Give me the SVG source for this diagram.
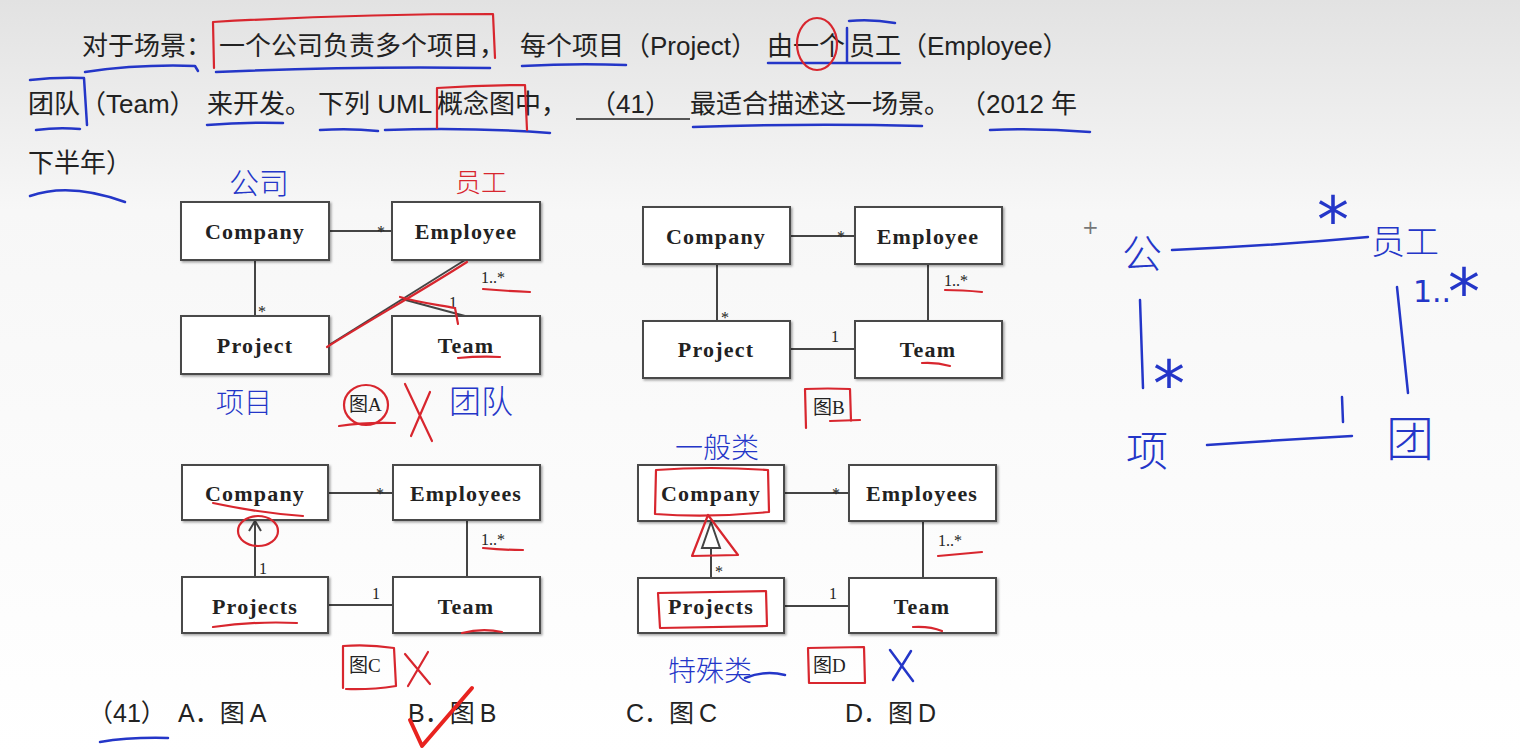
<svg xmlns="http://www.w3.org/2000/svg" width="1520" height="754" viewBox="0 0 1520 754">
<defs>
<linearGradient id="bg" x1="0" y1="0" x2="0" y2="1">
<stop offset="0" stop-color="#e2e2e2"/>
<stop offset="0.28" stop-color="#f7f7f7"/>
<stop offset="1" stop-color="#ffffff"/>
</linearGradient>
<filter id="sh" x="-10%" y="-10%" width="130%" height="130%">
<feDropShadow dx="1.5" dy="1.5" stdDeviation="1" flood-color="#000" flood-opacity="0.35"/>
</filter>
</defs>
<style>
.box{fill:#fff;stroke:#4a4a4a;stroke-width:2;filter:url(#sh)}
.cls{font-family:"Liberation Serif",serif;font-weight:bold;font-size:22px;fill:#222;text-anchor:middle;letter-spacing:1.2px}
.ln{stroke:#444;stroke-width:2;fill:none}
.m{font-family:"Liberation Serif",serif;font-size:16px;fill:#222}
.cap{font-family:"Liberation Serif","Noto Sans CJK SC",serif;font-size:19px;fill:#222}
.q{font-family:"Liberation Sans","Noto Sans CJK SC",sans-serif;font-size:26px;fill:#222}
.a{font-family:"Liberation Sans","Noto Sans CJK SC",sans-serif;font-size:25px;fill:#222}
.bl{stroke:#2436c8;stroke-width:2.5;fill:none;stroke-linecap:round;stroke-linejoin:round}
.rd{stroke:#d8262e;stroke-width:2.2;fill:none;stroke-linecap:round;stroke-linejoin:round}
.hb{font-family:"Noto Sans CJK SC",sans-serif;fill:#2436c8;font-weight:300}
.hr{font-family:"Noto Sans CJK SC",sans-serif;fill:#d8262e;font-weight:300}
.ha{font-family:"DejaVu Sans",sans-serif;fill:#2436c8}
</style>
<rect width="1520" height="754" fill="url(#bg)"/>

<g id="question">
<text class="q" x="82" y="55">对于场景：</text>
<text class="q" x="219" y="55">一个公司负责多个项目，</text>
<text class="q" x="520" y="55">每个项目（Project）</text>
<text class="q" x="767" y="55">由一个</text>
<text class="q" x="849" y="55">员工（Employee）</text>
<text class="q" x="28" y="113">团队（Team）</text>
<text class="q" x="207" y="113">来开发。</text>
<text class="q" x="318" y="113">下列 UML</text>
<text class="q" x="437" y="113">概念图中，</text>
<text class="q" x="590" y="113">（41）</text>
<line x1="576" y1="119" x2="690" y2="119" stroke="#222" stroke-width="1.5"/>
<text class="q" x="690" y="113">最适合描述这一场景。</text>
<text class="q" x="960" y="113">（2012 年</text>
<text class="q" x="28" y="172">下半年）</text>
</g>

<g id="question-marks">
<path class="bl" d="M85,72 Q140,64 195,66 L198,71"/>
<path class="bl" d="M216,72 Q350,66 490,68"/>
<path class="rd" d="M214,68 L213,22 Q350,14 493,14 L495,58"/>
<path class="bl" d="M522,66 Q575,63 626,65"/>
<path class="bl" d="M768,63 L900,63"/>
<ellipse class="rd" cx="817" cy="44" rx="20" ry="26"/>
<path class="bl" d="M847,28 L847,62 M849,21 Q872,19 895,23"/>
<path class="bl" d="M30,80 Q56,77 84,78 L87,125 M36,130 Q58,127 80,129"/>
<path class="bl" d="M207,125 Q245,122 283,123"/>
<path class="bl" d="M320,130 Q350,128 378,131 M385,130 Q470,127 550,133"/>
<path class="rd" d="M437,128 L437,88 Q480,85 525,85 L527,130"/>
<path class="bl" d="M693,127 Q810,123 922,126"/>
<path class="bl" d="M990,130 Q1040,128 1090,132"/>
<path class="bl" d="M30,196 Q70,182 125,202"/>
</g>

<g id="connectors">
<!-- A -->
<line class="ln" x1="329" y1="231" x2="392" y2="231"/>
<line class="ln" x1="255" y1="260" x2="255" y2="316"/>
<line class="ln" x1="329" y1="345" x2="465" y2="260"/>
<line class="ln" x1="402" y1="299" x2="465" y2="316"/>
<!-- B -->
<line class="ln" x1="790" y1="236" x2="855" y2="236"/>
<line class="ln" x1="717" y1="264" x2="717" y2="321"/>
<line class="ln" x1="928" y1="264" x2="928" y2="321"/>
<line class="ln" x1="790" y1="349" x2="855" y2="349"/>
<!-- C -->
<line class="ln" x1="328" y1="493" x2="393" y2="493"/>
<line class="ln" x1="255" y1="521" x2="255" y2="577"/>
<path class="ln" d="M249,531 L255,521 L261,531"/>
<line class="ln" x1="467" y1="520" x2="467" y2="577"/>
<line class="ln" x1="328" y1="605" x2="393" y2="605"/>
<!-- D -->
<line class="ln" x1="784" y1="493" x2="849" y2="493"/>
<line class="ln" x1="711" y1="548" x2="711" y2="578"/>
<path d="M711,522 L702,548 L720,548 Z" fill="#fff" stroke="#444" stroke-width="2"/>
<line class="ln" x1="923" y1="521" x2="923" y2="578"/>
<line class="ln" x1="784" y1="606" x2="849" y2="606"/>
</g>

<g id="multiplicities">
<text class="m" x="377" y="237">*</text>
<text class="m" x="258" y="317">*</text>
<text class="m" x="449" y="308">1</text>
<text class="m" x="481" y="283">1..*</text>
<text class="m" x="837" y="242">*</text>
<text class="m" x="721" y="323">*</text>
<text class="m" x="831" y="342">1</text>
<text class="m" x="944" y="286">1..*</text>
<text class="m" x="376" y="499">*</text>
<text class="m" x="259" y="574">1</text>
<text class="m" x="372" y="599">1</text>
<text class="m" x="481" y="545">1..*</text>
<text class="m" x="832" y="499">*</text>
<text class="m" x="715" y="577">*</text>
<text class="m" x="829" y="599">1</text>
<text class="m" x="938" y="546">1..*</text>
</g>

<g id="A-Company"><rect class="box" x="181" y="202" width="148" height="58"/><text class="cls" x="255" y="239">Company</text></g>
<g id="A-Employee"><rect class="box" x="392" y="202" width="148" height="58"/><text class="cls" x="466" y="239">Employee</text></g>
<g id="A-Project"><rect class="box" x="181" y="316" width="148" height="58"/><text class="cls" x="255" y="353">Project</text></g>
<g id="A-Team"><rect class="box" x="392" y="316" width="148" height="58"/><text class="cls" x="466" y="353">Team</text></g>

<g id="B-Company"><rect class="box" x="643" y="207" width="147" height="57"/><text class="cls" x="716" y="244">Company</text></g>
<g id="B-Employee"><rect class="box" x="855" y="207" width="147" height="57"/><text class="cls" x="928" y="244">Employee</text></g>
<g id="B-Project"><rect class="box" x="643" y="321" width="147" height="57"/><text class="cls" x="716" y="357">Project</text></g>
<g id="B-Team"><rect class="box" x="855" y="321" width="147" height="57"/><text class="cls" x="928" y="357">Team</text></g>

<g id="C-Company"><rect class="box" x="182" y="465" width="146" height="55"/><text class="cls" x="255" y="501">Company</text></g>
<g id="C-Employees"><rect class="box" x="393" y="465" width="147" height="55"/><text class="cls" x="466" y="501">Employees</text></g>
<g id="C-Projects"><rect class="box" x="182" y="577" width="146" height="56"/><text class="cls" x="255" y="614">Projects</text></g>
<g id="C-Team"><rect class="box" x="393" y="577" width="147" height="56"/><text class="cls" x="466" y="614">Team</text></g>

<g id="D-Company"><rect class="box" x="638" y="465" width="146" height="56"/><text class="cls" x="711" y="501">Company</text></g>
<g id="D-Employees"><rect class="box" x="849" y="465" width="147" height="56"/><text class="cls" x="922" y="501">Employees</text></g>
<g id="D-Projects"><rect class="box" x="638" y="578" width="146" height="55"/><text class="cls" x="711" y="614">Projects</text></g>
<g id="D-Team"><rect class="box" x="849" y="578" width="147" height="55"/><text class="cls" x="922" y="614">Team</text></g>

<g id="captions">
<text class="cap" x="349" y="411">图A</text>
<text class="cap" x="813" y="414">图B</text>
<text class="cap" x="349" y="672">图C</text>
<text class="cap" x="813" y="672">图D</text>
</g>

<g id="annotations-A">
<text class="hb" x="229" y="194" font-size="30">公司</text>
<text class="hr" x="455" y="192" font-size="26">员工</text>
<text class="hb" x="216" y="413" font-size="28">项目</text>
<text class="hb" x="449" y="413" font-size="32">团队</text>
<path class="rd" d="M327,347 C370,320 420,292 467,262"/>
<path class="rd" d="M400,297 C420,303 440,305 455,308 L458,324"/>
<path class="rd" d="M483,289 Q505,291 530,292"/>
<path class="rd" d="M458,358 Q480,356 500,357"/>
<ellipse class="rd" cx="366" cy="405" rx="22" ry="20"/>
<path class="rd" d="M339,426 Q365,422 395,423"/>
<path class="rd" d="M405,384 L432,441 M430,392 L411,436"/>
</g>

<g id="annotations-B">
<path class="rd" d="M945,290 Q962,290 982,292"/>
<path class="rd" d="M922,363 Q936,362 950,366"/>
<path class="rd" d="M806,428 L805,389 Q828,388 850,389 L851,421 M830,421 L860,420"/>
</g>

<g id="annotations-C">
<path class="rd" d="M213,503 Q260,513 303,516"/>
<ellipse class="rd" cx="258" cy="531" rx="20" ry="15"/>
<path class="rd" d="M483,548 Q503,550 523,550"/>
<path class="rd" d="M213,627 Q255,621 297,623"/>
<path class="rd" d="M462,633 Q482,628 502,632"/>
<path class="rd" d="M343,688 L343,646 Q368,644 394,648 L396,686 Q370,690 346,689"/>
<path class="rd" d="M405,654 L430,684 M428,652 L408,686"/>
</g>

<g id="annotations-D">
<text class="hb" x="675" y="458" font-size="28">一般类</text>
<text class="hb" x="668" y="681" font-size="28">特殊类</text>
<path class="bl" d="M745,678 Q765,670 785,675"/>
<path class="bl" d="M890,650 L913,681 M911,651 L893,680"/>
<path class="rd" d="M656,470 Q710,466 768,470 L769,512 Q710,518 655,514 Z"/>
<path class="rd" d="M708,515 L692,556 L738,555 Z"/>
<path class="rd" d="M658,593 L766,591 L767,626 L660,628 Z"/>
<path class="rd" d="M938,556 L982,552"/>
<path class="rd" d="M913,627 Q930,626 942,631"/>
<path class="rd" d="M808,648 L864,647 L865,683 L809,683 Z"/>
</g>

<g id="sketch">
<text x="1082" y="234" font-family="DejaVu Sans, sans-serif" font-size="20" fill="#777">+</text>
<text class="hb" x="1122" y="268" font-size="40">公</text>
<path class="bl" d="M1172,250 Q1270,246 1368,237"/>
<text class="ha" x="1317" y="242" font-size="64">*</text>
<text class="hb" x="1371" y="254" font-size="34">员工</text>
<text class="ha" x="1413" y="302" font-size="30">1..</text>
<text class="ha" x="1448" y="314" font-size="64">*</text>
<path class="bl" d="M1397,287 L1408,393"/>
<path class="bl" d="M1140,300 L1143,388"/>
<text class="ha" x="1153" y="406" font-size="64">*</text>
<text class="hb" x="1126" y="466" font-size="42">项</text>
<path class="bl" d="M1207,445 Q1280,440 1352,436"/>
<path class="bl" d="M1342,397 L1343,422"/>
<text class="hb" x="1386" y="456" font-size="48">团</text>
</g>

<g id="answers">
<text class="a" x="88" y="722">（41）</text>
<text class="a" x="178" y="722">A．图<tspan dx="5">A</tspan></text>
<text class="a" x="408" y="722">B．图<tspan dx="5">B</tspan></text>
<text class="a" x="626" y="722">C．图<tspan dx="5">C</tspan></text>
<text class="a" x="845" y="722">D．图<tspan dx="5">D</tspan></text>
<path class="bl" d="M100,742 Q130,737 168,738"/>
<path d="M410,720 L422,746 L472,688" fill="none" stroke="#e8231f" stroke-width="4" stroke-linecap="round" stroke-linejoin="round"/>
</g>
</svg>
